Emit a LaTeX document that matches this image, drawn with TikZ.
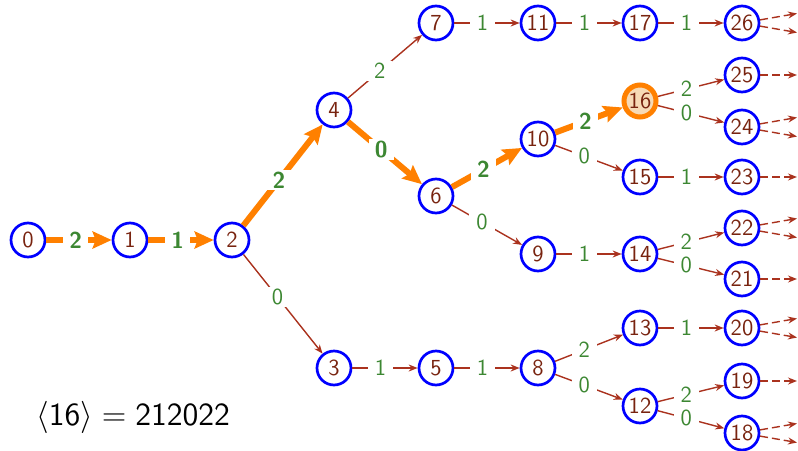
\RequirePackage{fix-cm}
\documentclass[tikz,border=0pt]{standalone}
\usetikzlibrary{arrows.meta}
\definecolor{nodetext}{RGB}{120,35,15}
\definecolor{edgecol}{RGB}{170,50,30}
\definecolor{lblgreen}{RGB}{60,135,50}
\definecolor{hlorange}{RGB}{255,128,0}
\definecolor{hlfill}{RGB}{247,218,182}
\begin{document}
\begin{tikzpicture}[x=0.5pt,y=-0.5pt, font=\sffamily\fontsize{11.5}{13}\selectfont,
 st/.style={circle, draw=blue, line width=1.35pt, minimum size=17pt, inner sep=0pt, text=nodetext},
 hl/.style={st, draw=hlorange, fill=hlfill, line width=2.5pt, minimum size=16pt},
 e/.style={draw=edgecol, line width=0.7pt, -{Stealth[length=4.5pt,width=3.5pt]}},
 lb/.style={fill=white, text=lblgreen, inner xsep=3.5pt, inner ysep=1pt, pos=0.43},
 he/.style={draw=hlorange, line width=3pt, -{Stealth[length=9.5pt,width=8.5pt,inset=1.5pt]}},
 hlb/.style={fill=white, text=lblgreen, font=\sffamily\bfseries\fontsize{11.5}{13}\selectfont, inner xsep=3pt, inner ysep=1pt, pos=0.45},
 ds/.style={draw=edgecol, line width=0.7pt, dash pattern=on 4pt off 2pt, -{Stealth[length=4.5pt,width=3.5pt]}}
]
\useasboundingbox (0,0) rectangle (798,450);
% nodes
\node[st] (n0) at (28,240) {0};
\node[st] (n1) at (130,240) {1};
\node[st] (n2) at (232,240) {2};
\node[st] (n4) at (334,110) {4};
\node[st] (n3) at (334,368) {3};
\node[st] (n7) at (436,23) {7};
\node[st] (n6) at (436,196) {6};
\node[st] (n5) at (436,368) {5};
\node[st] (n11) at (538,23) {11};
\node[st] (n10) at (538,139) {10};
\node[st] (n9) at (538,254) {9};
\node[st] (n8) at (538,368) {8};
\node[st] (n17) at (640,23) {17};
\node[hl] (n16) at (640,101) {16};
\node[st] (n15) at (640,177) {15};
\node[st] (n14) at (640,254) {14};
\node[st] (n13) at (640,328) {13};
\node[st] (n12) at (640,406) {12};
\node[st] (n26) at (742,23) {26};
\node[st] (n25) at (742,75) {25};
\node[st] (n24) at (742,127) {24};
\node[st] (n23) at (742,177) {23};
\node[st] (n22) at (742,228) {22};
\node[st] (n21) at (742,279) {21};
\node[st] (n20) at (742,328) {20};
\node[st] (n19) at (742,381) {19};
\node[st] (n18) at (742,433) {18};
% highlighted path
\draw[he] (n0) -- node[hlb]{2} (n1);
\draw[he] (n1) -- node[hlb]{1} (n2);
\draw[he] (n2) -- node[hlb]{2} (n4);
\draw[he] (n4) -- node[hlb]{0} (n6);
\draw[he] (n6) -- node[hlb]{2} (n10);
\draw[he] (n10) -- node[hlb]{2} (n16);
% ordinary edges
\draw[e] (n2) -- node[lb]{0} (n3);
\draw[e] (n4) -- node[lb]{2} (n7);
\draw[e] (n3) -- node[lb]{1} (n5);
\draw[e] (n5) -- node[lb]{1} (n8);
\draw[e] (n7) -- node[lb]{1} (n11);
\draw[e] (n11) -- node[lb]{1} (n17);
\draw[e] (n17) -- node[lb]{1} (n26);
\draw[e] (n6) -- node[lb]{0} (n9);
\draw[e] (n10) -- node[lb]{0} (n15);
\draw[e] (n9) -- node[lb]{1} (n14);
\draw[e] (n15) -- node[lb]{1} (n23);
\draw[e] (n16) -- node[lb]{2} (n25);
\draw[e] (n16) -- node[lb]{0} (n24);
\draw[e] (n14) -- node[lb]{2} (n22);
\draw[e] (n14) -- node[lb]{0} (n21);
\draw[e] (n8) -- node[lb]{2} (n13);
\draw[e] (n8) -- node[lb]{0} (n12);
\draw[e] (n13) -- node[lb]{1} (n20);
\draw[e] (n12) -- node[lb]{2} (n19);
\draw[e] (n12) -- node[lb]{0} (n18);
% dashed continuations
\coordinate (d26a) at (797,13.5);
\coordinate (d26b) at (797,32.5);
\coordinate (d25) at (797,75);
\coordinate (d24a) at (797,117.5);
\coordinate (d24b) at (797,136.5);
\coordinate (d23) at (797,177);
\coordinate (d22a) at (797,218.5);
\coordinate (d22b) at (797,237.5);
\coordinate (d21) at (797,279);
\coordinate (d20a) at (797,318.5);
\coordinate (d20b) at (797,337.5);
\coordinate (d19) at (797,381);
\coordinate (d18a) at (797,423.5);
\coordinate (d18b) at (797,442.5);
\draw[ds] (n26) -- (d26a);
\draw[ds] (n26) -- (d26b);
\draw[ds] (n25) -- (d25);
\draw[ds] (n24) -- (d24a);
\draw[ds] (n24) -- (d24b);
\draw[ds] (n23) -- (d23);
\draw[ds] (n22) -- (d22a);
\draw[ds] (n22) -- (d22b);
\draw[ds] (n21) -- (d21);
\draw[ds] (n20) -- (d20a);
\draw[ds] (n20) -- (d20b);
\draw[ds] (n19) -- (d19);
\draw[ds] (n18) -- (d18a);
\draw[ds] (n18) -- (d18b);
% formula
\node[anchor=base west, inner sep=0pt, font=\fontsize{16.1}{19}\selectfont] (formula) at (36,425) {$\langle\mathsf{16}\rangle = \mathsf{212022}$};
\end{tikzpicture}
\end{document}
